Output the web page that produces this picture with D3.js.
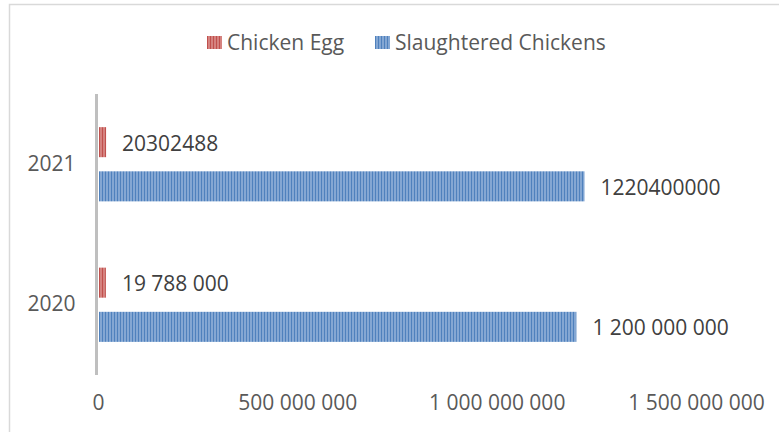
<!DOCTYPE html>
<html>
<head>
<meta charset="utf-8">
<script src="https://cdn.jsdelivr.net/npm/d3@7"></script>
<style>
  body { margin: 0; background: #fff; }
  svg { display: block; font-family: "Open Sans", sans-serif; }
</style>
</head>
<body>
<svg id="chart" width="779" height="432"></svg>
<script>
// data
const years = ["2021", "2020"];
const series = ["Chicken Egg", "Slaughtered Chickens"];
const chickenEgg = [20302488, 19788000];
const slaughtered = [1220400000, 1200000000];
const eggLabels = ["20302488", "19 788 000"];
const slaughterLabels = ["1220400000", "1 200 000 000"];
const xTicks = [0, 500000000, 1000000000, 1500000000];
const xTickLabels = ["0", "500 000 000", "1 000 000 000", "1 500 000 000"];

const colors = { "Chicken Egg": ["#c0504d", "#eab3b1"], "Slaughtered Chickens": ["#4f81bd", "#b8cee9"] };
const patId = { "Chicken Egg": "pat-egg", "Slaughtered Chickens": "pat-sl" };

const svg = d3.select("#chart");

// frame
svg.append("rect")
  .attr("x", 9.5).attr("y", 4.5)
  .attr("width", 800).attr("height", 500)
  .attr("fill", "none").attr("stroke", "#d9d9d9").attr("stroke-width", 1.5);

// stripe patterns
const defs = svg.append("defs");
series.forEach(s => {
  const p = defs.append("pattern")
    .attr("id", patId[s])
    .attr("patternUnits", "userSpaceOnUse")
    .attr("width", 3).attr("height", 10);
  p.append("rect").attr("width", 3).attr("height", 10).attr("fill", colors[s][0]);
  p.append("rect").attr("x", 1.5).attr("width", 1).attr("height", 10).attr("fill", colors[s][1]);
});

// scales
const x = d3.scaleLinear().domain([0, 1500000000]).range([98, 696]);
const y0 = d3.scaleBand().domain(years).range([94, 375]);
const y1 = d3.scaleBand().domain(series).range([0, y0.bandwidth()])
  .paddingInner(0.32).paddingOuter(0.75);

const rows = years.map((yr, i) => ({
  year: yr,
  vals: [
    { s: series[0], v: chickenEgg[i], label: eggLabels[i] },
    { s: series[1], v: slaughtered[i], label: slaughterLabels[i] }
  ]
}));

const groups = svg.selectAll(".grp")
  .data(rows)
  .enter()
  .append("g")
  .attr("class", "grp")
  .attr("transform", d => `translate(0, ${y0(d.year)})`);

groups.selectAll("rect")
  .data(d => d.vals)
  .enter()
  .append("rect")
  .attr("x", x(0) + 1)
  .attr("y", d => y1(d.s))
  .attr("width", d => x(d.v) - x(0) - 1)
  .attr("height", y1.bandwidth())
  .attr("fill", d => `url(#${patId[d.s]})`);

groups.selectAll("text.val")
  .data(d => d.vals)
  .enter()
  .append("text")
  .attr("class", "val")
  .attr("x", d => x(d.v) + 16)
  .attr("y", d => y1(d.s) + y1.bandwidth() / 2 + 1)
  .attr("dy", "0.35em")
  .style("font-size", "21px")
  .style("fill", "#404040")
  .text(d => d.label);

// category axis
svg.append("line")
  .attr("x1", x(0) - 1.5).attr("x2", x(0) - 1.5)
  .attr("y1", 94).attr("y2", 375)
  .attr("stroke", "#bfbfbf").attr("stroke-width", 3);

const yAxis = d3.axisLeft(y0).tickSize(0).tickPadding(21);
svg.append("g")
  .attr("transform", `translate(${x(0) - 1.5}, 0)`)
  .call(yAxis)
  .call(g => g.select(".domain").remove())
  .selectAll("text")
  .style("font-family", "Open Sans, sans-serif")
  .style("font-size", "21px")
  .style("fill", "#595959");

// value axis (labels only)
const xAxis = d3.axisBottom(x).tickValues(xTicks).tickSize(0)
  .tickFormat((d, i) => xTickLabels[i]);
svg.append("g")
  .attr("transform", "translate(0, 392)")
  .call(xAxis)
  .call(g => g.select(".domain").remove())
  .selectAll("text")
  .style("font-family", "Open Sans, sans-serif")
  .style("font-size", "21px")
  .style("fill", "#595959");

// legend
const legendX = [207, 375];
const legend = svg.selectAll(".leg")
  .data(series)
  .enter()
  .append("g")
  .attr("class", "leg")
  .attr("transform", (d, i) => `translate(${legendX[i]}, 36)`);

legend.append("rect")
  .attr("width", 15).attr("height", 13)
  .attr("fill", d => `url(#${patId[d]})`);

legend.append("text")
  .attr("x", 20)
  .attr("y", 7)
  .attr("dy", "0.35em")
  .style("font-size", "21px")
  .style("fill", "#595959")
  .text(d => d);
</script>
</body>
</html>
